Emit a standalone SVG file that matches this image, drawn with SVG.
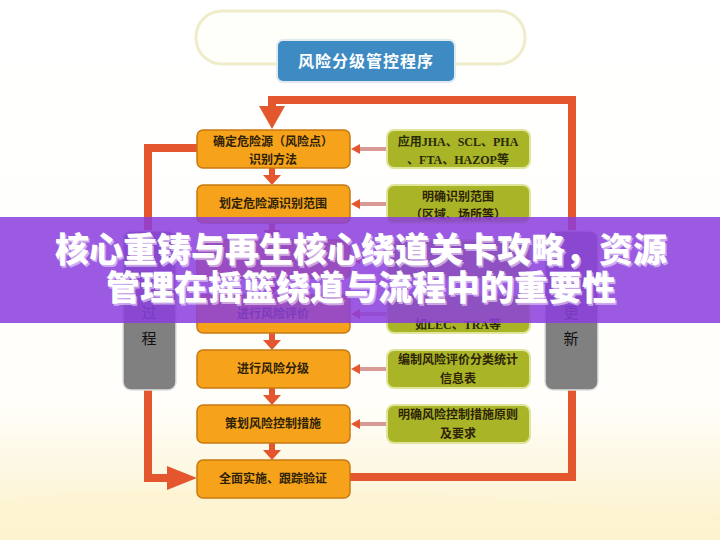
<svg xmlns="http://www.w3.org/2000/svg" width="720" height="540" viewBox="0 0 720 540">
<defs>
<linearGradient id="bg" x1="0" y1="0" x2="0" y2="1">
<stop offset="0" stop-color="#ffffff"/>
<stop offset="0.75" stop-color="#fffefa"/>
<stop offset="1" stop-color="#fbf1c8"/>
</linearGradient>
<style>
.ob{fill:#f7a21b;stroke:#c77a12;stroke-width:1.5}
.gb{fill:#a9b526;stroke:#dfe59a;stroke-width:2}
.gr{fill:#808080;stroke:#e0e0e0;stroke-width:1.5}
.t{font-family:"Noto Sans CJK SC","Noto Sans",sans-serif;font-weight:bold;font-size:12px;fill:#2e2208;text-anchor:middle}
.tg{font-family:"Liberation Serif","Noto Sans CJK SC",serif;font-weight:bold;font-size:12px;fill:#2a2a08;text-anchor:middle}
.tv{font-family:"Noto Sans CJK SC",sans-serif;font-size:15px;fill:#111;text-anchor:middle}
.ln{fill:none;stroke:#e4572e;stroke-width:8;stroke-linejoin:miter}
.dn{fill:#e4572e}
.sd{stroke:#d89a94;stroke-width:4;fill:none}
.sh{fill:#e4572e}
.bn{font-family:"Noto Sans CJK SC",sans-serif;font-weight:900;font-size:34px;fill:#ffffff;text-anchor:middle}
</style>
</defs>
<rect width="720" height="540" fill="url(#bg)"/>
<path d="M0,500 Q300,470 720,520 L720,540 L0,540 Z" fill="#fdf4d2" opacity="0.7"/>

<g id="frame">
<rect x="196" y="11" width="329" height="53" rx="26" fill="#fffffa" stroke="#efecca" stroke-width="3"/>
</g>

<g id="title">
<rect x="277" y="40" width="178" height="42" rx="6" fill="#3d8bc2" stroke="#dfe9f2" stroke-width="2"/>
<text x="366" y="67" font-family="Noto Sans CJK SC,sans-serif" font-weight="bold" font-size="16" fill="#ffffff" text-anchor="middle" letter-spacing="1">风险分级管控程序</text>
</g>

<g id="connectors">
<path class="ln" d="M350,477 H572 V100 H272 V108"/>
<polygon class="dn" points="259,106 285,106 272,129"/>
<path class="ln" d="M197,148 H148 V478 H170"/>
<polygon class="dn" points="167,466 197,478 167,490"/>
<g id="downs">
<rect class="dn" x="269" y="168" width="6" height="8"/><polygon class="dn" points="263,175 281,175 272,185"/>
<rect class="dn" x="269" y="223" width="6" height="8"/><polygon class="dn" points="263,230 281,230 272,240"/>
<rect class="dn" x="269" y="278" width="6" height="8"/><polygon class="dn" points="263,285 281,285 272,295"/>
<rect class="dn" x="269" y="333" width="6" height="8"/><polygon class="dn" points="263,340 281,340 272,350"/>
<rect class="dn" x="269" y="388" width="6" height="8"/><polygon class="dn" points="263,395 281,395 272,405"/>
<rect class="dn" x="269" y="443" width="6" height="8"/><polygon class="dn" points="263,450 281,450 272,460"/>
</g>
<g id="sides">
<line class="sd" x1="387" y1="149" x2="358" y2="149"/><polygon class="sh" points="360,144 360,154 351,149"/>
<line class="sd" x1="387" y1="204" x2="358" y2="204"/><polygon class="sh" points="360,199 360,209 351,204"/>
<line class="sd" x1="387" y1="259" x2="358" y2="259"/><polygon class="sh" points="360,254 360,264 351,259"/>
<line class="sd" x1="387" y1="314" x2="358" y2="314"/><polygon class="sh" points="360,309 360,319 351,314"/>
<line class="sd" x1="387" y1="369" x2="358" y2="369"/><polygon class="sh" points="360,364 360,374 351,369"/>
<line class="sd" x1="387" y1="424" x2="358" y2="424"/><polygon class="sh" points="360,419 360,429 351,424"/>
</g>
</g>

<g id="left-gray"><rect class="gr" x="123" y="231" width="53" height="159" rx="8"/>
<text class="tv" x="149" y="318">过</text><text class="tv" x="149" y="344">程</text></g>
<g id="right-gray"><rect class="gr" x="545" y="231" width="53" height="159" rx="8"/>
<text class="tv" x="571" y="318">更</text><text class="tv" x="571" y="344">新</text></g>

<g id="o1"><rect class="ob" x="197" y="130" width="153" height="38" rx="6"/>
<text class="t" x="273" y="146">确定危险源（风险点）</text><text class="t" x="273" y="164">识别方法</text></g>
<g id="o2"><rect class="ob" x="197" y="185" width="153" height="38" rx="6"/>
<text class="t" x="273" y="208">划定危险源识别范围</text></g>
<g id="o3"><rect class="ob" x="197" y="240" width="153" height="38" rx="6"/></g>
<g id="o4"><rect class="ob" x="197" y="295" width="153" height="38" rx="6"/>
<text class="t" x="273" y="318">进行风险评价</text></g>
<g id="o5"><rect class="ob" x="197" y="350" width="153" height="38" rx="6"/>
<text class="t" x="273" y="373">进行风险分级</text></g>
<g id="o6"><rect class="ob" x="197" y="405" width="153" height="38" rx="6"/>
<text class="t" x="273" y="428">策划风险控制措施</text></g>
<g id="o7"><rect class="ob" x="197" y="460" width="153" height="38" rx="6"/>
<text class="t" x="273" y="483">全面实施、跟踪验证</text></g>

<g id="g1"><rect class="gb" x="387" y="130" width="143" height="38" rx="7"/>
<text class="tg" x="458" y="146">应用JHA、SCL、PHA</text><text class="tg" x="458" y="164">、FTA、HAZOP等</text></g>
<g id="g2"><rect class="gb" x="387" y="185" width="143" height="38" rx="7"/>
<text class="t" x="458" y="201">明确识别范围</text><text class="t" x="458" y="219">（区域、场所等）</text></g>
<g id="g3"><rect class="gb" x="387" y="240" width="143" height="38" rx="7"/></g>
<g id="g4"><rect class="gb" x="387" y="295" width="143" height="38" rx="7"/>
<text class="tg" x="458" y="329">如LEC、TRA等</text></g>
<g id="g5"><rect class="gb" x="387" y="350" width="143" height="38" rx="7"/>
<text class="t" x="458" y="364">编制风险评价分类统计</text><text class="t" x="458" y="383">信息表</text></g>
<g id="g6"><rect class="gb" x="387" y="405" width="143" height="38" rx="7"/>
<text class="t" x="458" y="419">明确风险控制措施原则</text><text class="t" x="458" y="438">及要求</text></g>

<g id="banner">
<rect x="0" y="217" width="720" height="106" fill="#8b3fdc" opacity="0.86"/>
<text class="bn" x="361" y="262" fill="#3a1060" opacity="0.5" transform="translate(1.5,1.5)">核心重铸与再生核心绕道关卡攻略，资源</text>
<text class="bn" x="361" y="262">核心重铸与再生核心绕道关卡攻略，资源</text>
<text class="bn" x="361" y="300" fill="#3a1060" opacity="0.5" transform="translate(1.5,1.5)">管理在摇篮绕道与流程中的重要性</text>
<text class="bn" x="361" y="300">管理在摇篮绕道与流程中的重要性</text>
</g>
</svg>
